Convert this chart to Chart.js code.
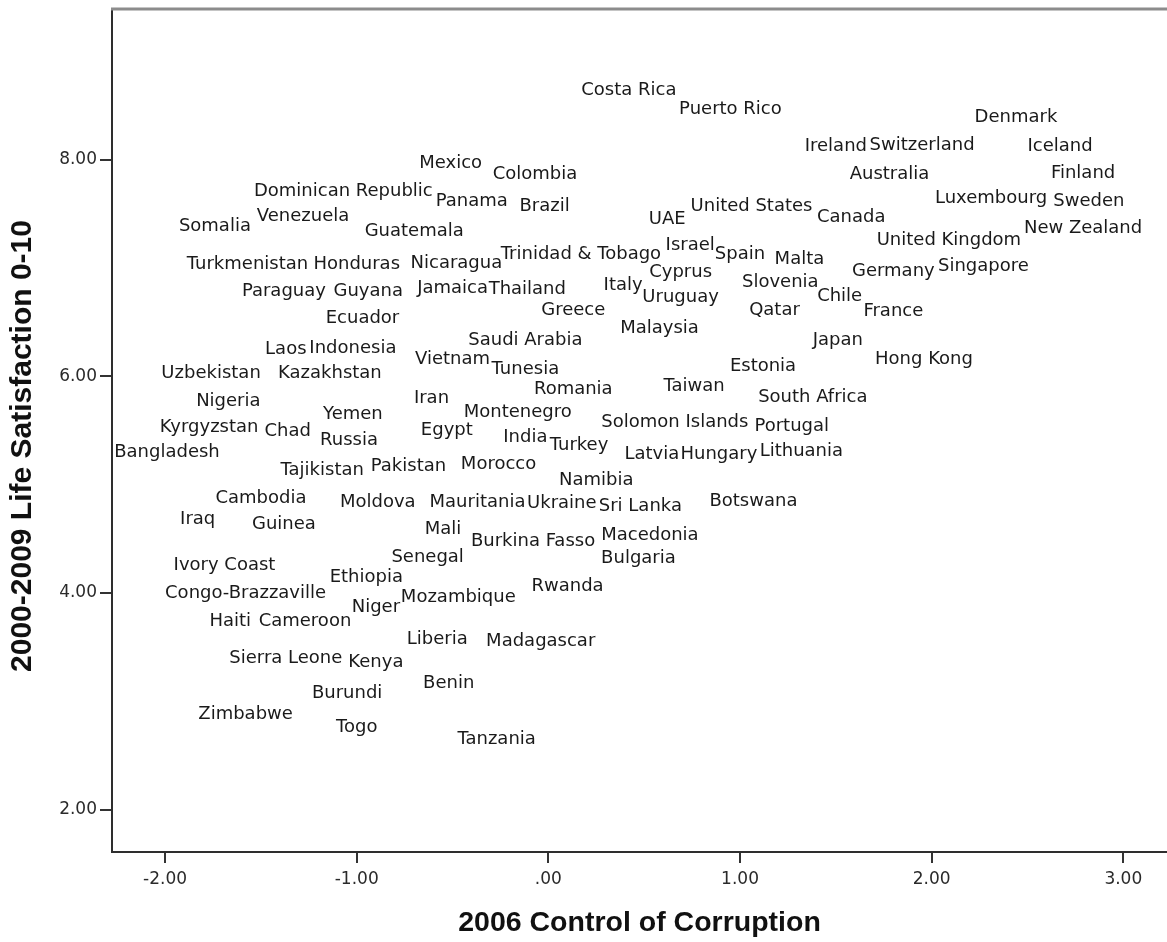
<!DOCTYPE html>
<html>
<head>
<meta charset="utf-8">
<script src="https://cdn.jsdelivr.net/npm/chart.js@4.4.1/dist/chart.umd.min.js"></script>
<style>
  html, body { margin: 0; padding: 0; background: #ffffff; }
  #wrap { width: 1167px; height: 942px; position: relative; }
</style>
</head>
<body>
<div id="wrap"><canvas id="c"></canvas></div>
<script>
const countries = [
  "Costa Rica","Puerto Rico","Denmark","Ireland","Switzerland","Iceland","Mexico","Colombia","Australia","Finland",
  "Dominican Republic","Panama","Luxembourg","Sweden","Brazil","Somalia","Venezuela","UAE","United States","Canada",
  "Guatemala","United Kingdom","New Zealand","Turkmenistan","Honduras","Nicaragua","Trinidad & Tobago","Israel","Spain","Malta",
  "Cyprus","Germany","Singapore","Paraguay","Guyana","Jamaica","Thailand","Italy","Uruguay","Slovenia",
  "Chile","Greece","Qatar","France","Ecuador","Malaysia","Saudi Arabia","Japan","Laos","Indonesia",
  "Vietnam","Tunesia","Estonia","Hong Kong","Uzbekistan","Kazakhstan","Romania","Taiwan","Nigeria","Iran",
  "South Africa","Yemen","Montenegro","Egypt","Solomon Islands","Portugal","Kyrgyzstan","Chad","Russia","India",
  "Turkey","Bangladesh","Latvia","Hungary","Lithuania","Tajikistan","Pakistan","Morocco","Namibia","Cambodia",
  "Moldova","Mauritania","Ukraine","Sri Lanka","Botswana","Iraq","Guinea","Mali","Burkina Fasso","Macedonia",
  "Senegal","Bulgaria","Ivory Coast","Ethiopia","Congo-Brazzaville","Niger","Mozambique","Rwanda","Haiti","Cameroon",
  "Liberia","Madagascar","Sierra Leone","Kenya","Burundi","Benin","Zimbabwe","Togo","Tanzania"
];
const corruption2006 = [
  0.42,0.95,2.44,1.50,1.95,2.67,-0.51,-0.07,1.78,2.79,
  -1.07,-0.40,2.31,2.82,-0.02,-1.74,-1.28,0.62,1.06,1.58,
  -0.70,2.09,2.79,-1.57,-1.00,-0.48,0.17,0.74,1.00,1.31,
  0.69,1.80,2.27,-1.38,-0.94,-0.50,-0.11,0.39,0.69,1.21,
  1.52,0.13,1.18,1.80,-0.97,0.58,-0.12,1.51,-1.37,-1.02,
  -0.50,-0.12,1.12,1.96,-1.76,-1.14,0.13,0.76,-1.67,-0.61,
  1.38,-1.02,-0.16,-0.53,0.66,1.27,-1.77,-1.36,-1.04,-0.12,
  0.16,-1.99,0.54,0.89,1.32,-1.18,-0.73,-0.26,0.25,-1.50,
  -0.89,-0.37,0.07,0.48,1.07,-1.83,-1.38,-0.55,-0.08,0.53,
  -0.63,0.47,-1.69,-0.95,-1.58,-0.90,-0.47,0.10,-1.66,-1.27,
  -0.58,-0.04,-1.37,-0.90,-1.05,-0.52,-1.58,-1.00,-0.27
];
const lifeSatisfaction = [
  8.65,8.48,8.40,8.14,8.15,8.14,7.98,7.88,7.88,7.89,
  7.72,7.63,7.66,7.63,7.58,7.40,7.49,7.46,7.58,7.48,
  7.35,7.27,7.38,7.05,7.05,7.06,7.14,7.22,7.14,7.09,
  6.97,6.98,7.03,6.80,6.80,6.83,6.82,6.85,6.74,6.88,
  6.75,6.62,6.62,6.61,6.55,6.46,6.35,6.35,6.26,6.27,
  6.17,6.08,6.11,6.17,6.04,6.04,5.89,5.92,5.78,5.81,
  5.82,5.66,5.68,5.52,5.59,5.55,5.54,5.51,5.42,5.45,
  5.38,5.31,5.29,5.29,5.32,5.15,5.18,5.20,5.05,4.89,
  4.85,4.85,4.84,4.81,4.86,4.69,4.65,4.60,4.49,4.55,
  4.34,4.33,4.27,4.16,4.01,3.88,3.97,4.08,3.75,3.75,
  3.59,3.57,3.41,3.37,3.09,3.18,2.89,2.77,2.66
];
const xTicks = [-2, -1, 0, 1, 2, 3];
const yTicks = [2, 4, 6, 8];
const xTitle = "2006 Control of Corruption";
const yTitle = "2000-2009 Life Satisfaction 0-10";

const points = countries.map((c, i) => ({ x: corruption2006[i], y: lifeSatisfaction[i], label: c }));

const fmt = v => (v === 0 ? ".00" : v.toFixed(2));

const labelPlugin = {
  id: 'pointLabels',
  afterDatasetsDraw(chart) {
    const ctx = chart.ctx;
    const meta = chart.getDatasetMeta(0);
    ctx.save();
    ctx.font = '18px "DejaVu Sans"';
    ctx.fillStyle = '#1a1a1a';
    ctx.textAlign = 'center';
    ctx.textBaseline = 'middle';
    meta.data.forEach((el, i) => {
      ctx.fillText(points[i].label, el.x, el.y + 1.5);
    });
    ctx.restore();
  }
};

const framePlugin = {
  id: 'frameAndYTitle',
  afterDraw(chart) {
    const { ctx, chartArea } = chart;
    ctx.save();
    ctx.strokeStyle = '#8c8c8c';
    ctx.lineWidth = 3;
    ctx.beginPath();
    ctx.moveTo(chartArea.left - 1, chartArea.top);
    ctx.lineTo(chartArea.right, chartArea.top);
    ctx.stroke();
    // y axis title (rotated), positioned like the SPSS original
    ctx.translate(23, 446);
    ctx.rotate(-Math.PI / 2);
    ctx.font = 'bold 30px "Liberation Sans"';
    ctx.fillStyle = '#111111';
    ctx.textAlign = 'center';
    ctx.textBaseline = 'middle';
    ctx.fillText(yTitle, 0, 0);
    ctx.restore();
  }
};

new Chart(document.getElementById('c'), {
  type: 'scatter',
  data: {
    datasets: [{
      data: points,
      pointRadius: 0,
      pointHoverRadius: 0,
      showLine: false
    }]
  },
  options: {
    responsive: true,
    maintainAspectRatio: false,
    animation: false,
    events: [],
    layout: { padding: { top: 9, left: 0, right: 0, bottom: 0 } },
    plugins: { legend: { display: false }, tooltip: { enabled: false } },
    scales: {
      x: {
        type: 'linear',
        min: -2.277,
        max: 3.228,
        afterFit(scale) { scale.height = 90; scale.paddingLeft = 0; scale.paddingRight = 0; },
        afterBuildTicks(scale) { scale.ticks = xTicks.map(v => ({ value: v })); },
        ticks: {
          callback: v => fmt(v),
          font: { family: '"DejaVu Sans"', size: 17 },
          color: '#2a2a2a',
          padding: 6,
          maxRotation: 0
        },
        grid: { drawOnChartArea: false, drawTicks: true, tickLength: 11, color: '#333333', lineWidth: 2 },
        border: { display: true, color: '#2e2e2e', width: 2 },
        title: {
          display: true,
          text: xTitle,
          font: { family: '"Liberation Sans"', size: 28.5, weight: 'bold' },
          color: '#111111',
          padding: { top: 0, bottom: 2 }
        }
      },
      y: {
        type: 'linear',
        min: 1.61,
        max: 9.39,
        afterFit(scale) { scale.width = 112; scale.paddingTop = 0; scale.paddingBottom = 0; },
        afterBuildTicks(scale) { scale.ticks = yTicks.map(v => ({ value: v })); },
        ticks: {
          callback: v => fmt(v),
          font: { family: '"DejaVu Sans"', size: 17 },
          color: '#2a2a2a',
          padding: 3
        },
        grid: { drawOnChartArea: false, drawTicks: true, tickLength: 12, color: '#333333', lineWidth: 2 },
        border: { display: true, color: '#2e2e2e', width: 2 },
        title: { display: false }
      }
    }
  },
  plugins: [labelPlugin, framePlugin]
});
</script>
</body>
</html>
